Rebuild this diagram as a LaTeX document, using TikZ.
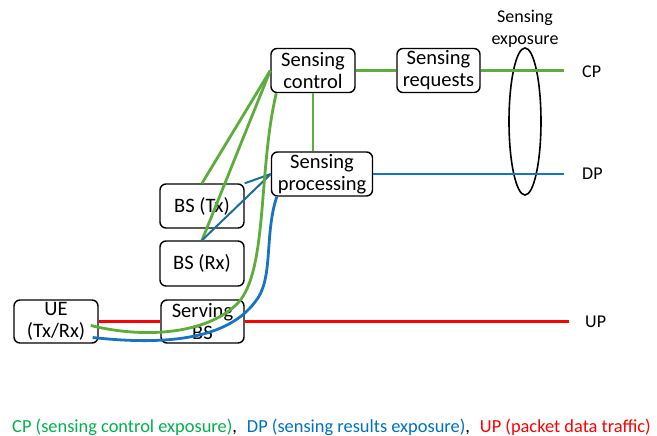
\documentclass[tikz,border=0pt]{standalone}
\usepackage{fontspec}
\setmainfont{Carlito}
\usetikzlibrary{shapes.geometric,calc}
\definecolor{cpg}{HTML}{5DAD3C}
\definecolor{dpb}{HTML}{1873C4}
\definecolor{teal2}{HTML}{1F6B9A}
\definecolor{legg}{HTML}{00B050}
\definecolor{legb}{HTML}{0070C0}
\begin{document}
\begin{tikzpicture}[x=1pt,y=-1pt,
  box/.style={draw,rounded corners=6pt,line width=1.4pt,align=center,inner sep=0pt,
    font=\fontsize{20.5}{22}\selectfont},
  cpl/.style={draw=cpg,line width=2.8pt},
  dpl/.style={draw=dpb,line width=2.8pt},
  upl/.style={draw=red,line width=2.8pt},
  tl/.style={draw=teal2,line width=2pt},
  lbl/.style={anchor=west,inner sep=0pt,font=\fontsize{18}{20}\selectfont}]
\useasboundingbox (0,0) rectangle (657,436);
% nodes
\node[box,minimum width=84pt,minimum height=44pt] (sc) at (313,70.5) {Sensing\\control};
\node[box,minimum width=101pt,minimum height=44pt] (sp) at (322,174) {Sensing\\processing};
\node[box,minimum width=83pt,minimum height=44pt] (sr) at (438.5,70.5) {Sensing\\requests};
\node[box,minimum width=84pt,minimum height=44pt] (bstx) at (202,206) {BS (Tx)};
\node[box,minimum width=84pt,minimum height=45pt] (bsrx) at (202,263.5) {BS (Rx)};
\node[box,minimum width=84pt,minimum height=43pt] (ue) at (56,321.5) {UE\\(Tx/Rx)};
\node[box,minimum width=83pt,minimum height=43pt] (sbs) at (202.5,321.5) {Serving\\BS};
\node[draw,ellipse,line width=1.6pt,minimum width=32pt,minimum height=147pt,inner sep=0pt] (expo) at (525,121.5) {};
\node[align=center,inner sep=0pt,font=\fontsize{18}{22}\selectfont] (expl) at (525,29) {Sensing\\exposure};
\node[lbl] (cp) at (582,72) {CP};
\node[lbl] (dp) at (582,174) {DP};
\node[lbl] (up) at (585,322) {UP};
\coordinate (cpend) at (564,70.5);
\coordinate (dpend) at (564,174);
\coordinate (upend) at (569,321.5);
% connectors
\draw[cpl] (sc.east) -- (sr.west);
\draw[cpl] (sr.east) -- (cpend);
\draw[cpl] (sc.south) -- (sc.south |- sp.north);
\draw[dpl] (sp.east) -- (dpend);
\draw[upl] (ue.east) -- (sbs.west);
\draw[upl] (sbs.east) -- (upend);
\draw[cpl] (sc.west) -- (bstx.north);
\draw[cpl] (sc.west) -- (bsrx.north);
\draw[tl] (bstx.north east) -- (sp.west);
\draw[tl] (bsrx.north) -- (sp.west);
\draw[cpl] ($(sc.south west)+(6,0)$) .. controls (258,170) and (268,270) .. (238,303)
   .. controls (210,332) and (150,340) .. ($(ue.east)+(-8,4)$);
\draw[dpl] ($(sp.south west)+(6,0)$) .. controls (264,235) and (274,280) .. (255,302)
   .. controls (228,338) and (170,346) .. ($(ue.east)+(-6,16)$);
% legend
\node[anchor=west,inner sep=0pt,font=\fontsize{18.4}{20}\selectfont] (leg) at (12,427)
 {\textcolor{legg}{CP (sensing control exposure)},\hspace{10pt}\textcolor{legb}{DP (sensing results exposure)},\hspace{10pt}\textcolor{red}{UP (packet data traffic)}};
\end{tikzpicture}
\end{document}
